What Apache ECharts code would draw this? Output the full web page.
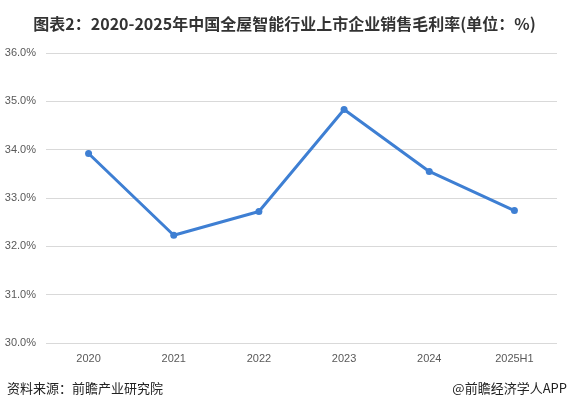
<!DOCTYPE html>
<html><head><meta charset="utf-8">
<script src="https://cdn.jsdelivr.net/npm/echarts@6/dist/echarts.min.js"></script>
<style>html,body{margin:0;padding:0;background:#fff}#c{width:569px;height:410px}</style>
</head><body><div id="c"></div>
<script>
const categories = ['2020','2021','2022','2023','2024','2025H1'];
const values = [33.92, 32.23, 32.72, 34.83, 33.55, 32.74];
const titleText = '图表2：2020-2025年中国全屋智能行业上市企业销售毛利率(单位：%)';
const sourceText = '资料来源：前瞻产业研究院';
const creditText = '@前瞻经济学人APP';

const chart = echarts.init(document.getElementById('c'));
chart.setOption({
  backgroundColor: '#fff',
  animation: false,
  title: {
    text: titleText, left: 'center', top: 11,
    textStyle: {fontSize: 16, fontWeight: 'bold', color: '#333', fontFamily: 'Noto Sans CJK SC'}
  },
  graphic: [
    {type: 'text', left: 7, top: 382, style: {text: sourceText, fontSize: 13, fill: '#222', fontFamily: 'Noto Sans CJK SC'}},
    {type: 'text', right: 2, top: 382, style: {text: creditText, fontSize: 13, fill: '#222', fontFamily: 'Noto Sans CJK SC'}}
  ],
  grid: {left: 46, right: 12, top: 53, bottom: 67},
  xAxis: {
    type: 'category', data: categories, boundaryGap: true,
    axisLine: {show: false}, axisTick: {show: false},
    axisLabel: {color: '#595959', fontSize: 11, margin: 10, fontFamily: 'Liberation Sans'}
  },
  yAxis: {
    type: 'value', min: 30, max: 36, interval: 1,
    axisLine: {show: false}, axisTick: {show: false},
    splitLine: {lineStyle: {color: '#d9d9d9', width: 1}},
    axisLabel: {color: '#595959', fontSize: 11, margin: 10, fontFamily: 'Liberation Sans',
      formatter: v => v.toFixed(1) + '%'}
  },
  series: [{
    type: 'line', data: values,
    symbol: 'circle', symbolSize: 7,
    lineStyle: {color: '#3e7fd3', width: 3},
    itemStyle: {color: '#3e7fd3'}
  }]
});
</script></body></html>
